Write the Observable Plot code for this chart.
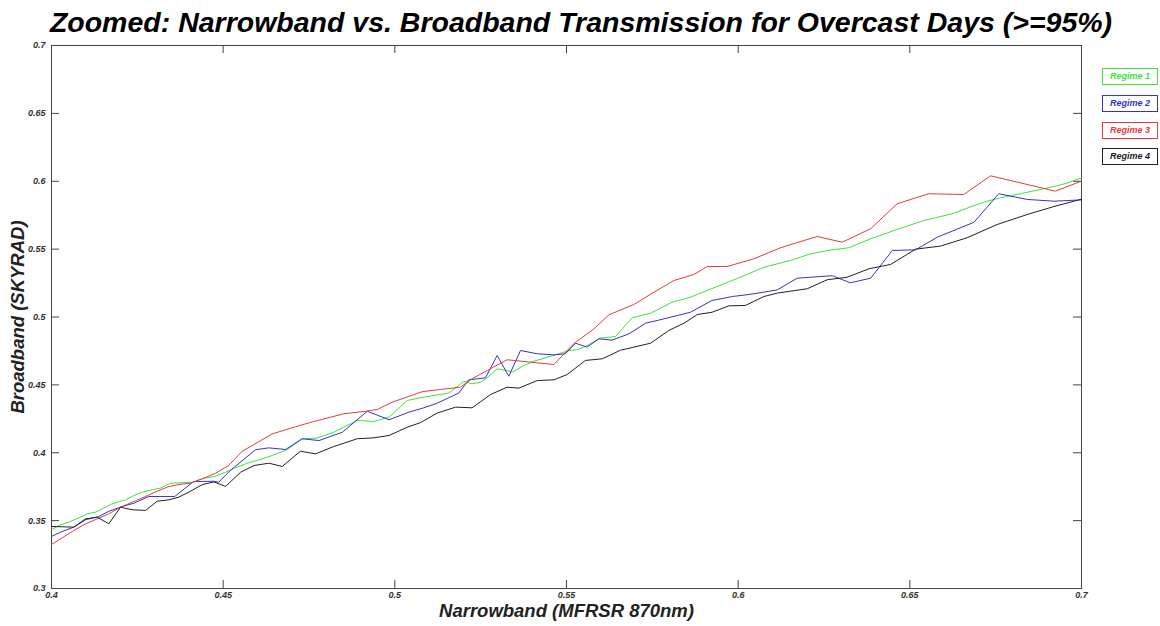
<!DOCTYPE html>
<html>
<head>
<meta charset="utf-8">
<script src="https://cdn.jsdelivr.net/npm/d3@7"></script>
<script src="https://cdn.jsdelivr.net/npm/@observablehq/plot@0.6"></script>
<style>
  html, body { margin: 0; padding: 0; background: #fff; }
  body { width: 1160px; height: 626px; position: relative; overflow: hidden; font-family: "Liberation Sans", Arial, sans-serif; }
  #title { height: 40px; line-height: 44px; text-align: center; font-size: 28.5px; font-weight: bold; font-style: italic; color: #000; padding-left: 2px; white-space: nowrap; }
  #chart svg text { font-family: "Liberation Sans", Arial, sans-serif; font-style: italic; font-weight: bold; }
  .leg { position: absolute; left: 1102px; width: 54px; height: 15px; border: 1px solid; background: #fff;
         font-size: 9px; font-weight: bold; font-style: italic; text-align: center; line-height: 15px; }
</style>
</head>
<body>
<div id="title">Zoomed: Narrowband vs. Broadband Transmission for Overcast Days (&gt;=95%)</div>
<div id="chart"></div>
<div id="legend"></div>
<script>
const seriesNames = ["Regime 1", "Regime 2", "Regime 3", "Regime 4"];
const seriesColors = ["#3fe03f", "#3434c4", "#e23c3c", "#222222"];
const xTicks = [0.4, 0.45, 0.5, 0.55, 0.6, 0.65, 0.7];
const yTicks = [0.3, 0.35, 0.4, 0.45, 0.5, 0.55, 0.6, 0.65, 0.7];
const xLabel = "Narrowband (MFRSR 870nm)";
const yLabel = "Broadband (SKYRAD)";

const regime1X = [0.4000,0.4021,0.4050,0.4080,0.4104,0.4128,0.4148,0.4172,0.4191,0.4216,0.4240,0.4264,0.4293,0.4317,0.4347,0.4381,0.4410,0.4439,0.4478,0.4507,0.4536,0.4570,0.4599,0.4643,0.4686,0.4730,0.4774,0.4822,0.4851,0.4890,0.4939,0.4983,0.5036,0.5075,0.5114,0.5157,0.5186,0.5201,0.5225,0.5250,0.5269,0.5298,0.5327,0.5342,0.5376,0.5405,0.5444,0.5478,0.5507,0.5531,0.5555,0.5599,0.5643,0.5691,0.5745,0.5808,0.5861,0.5929,0.6007,0.6075,0.6152,0.6211,0.6274,0.6322,0.6386,0.6463,0.6541,0.6623,0.6687,0.6725,0.6764,0.6822,0.6920,0.6958,0.7000];
const regime1Y = [0.3432,0.3464,0.3489,0.3521,0.3550,0.3562,0.3587,0.3619,0.3636,0.3653,0.3685,0.3710,0.3727,0.3739,0.3776,0.3779,0.3783,0.3808,0.3827,0.3857,0.3889,0.3923,0.3943,0.3980,0.4022,0.4103,0.4108,0.4151,0.4188,0.4238,0.4230,0.4262,0.4385,0.4405,0.4422,0.4439,0.4496,0.4527,0.4508,0.4520,0.4552,0.4618,0.4606,0.4594,0.4643,0.4674,0.4704,0.4729,0.4753,0.4758,0.4783,0.4845,0.4856,0.4994,0.5028,0.5109,0.5146,0.5215,0.5293,0.5367,0.5416,0.5466,0.5495,0.5510,0.5576,0.5645,0.5711,0.5760,0.5821,0.5853,0.5878,0.5908,0.5961,0.5986,0.6025];

const regime2X = [0.4000,0.4026,0.4065,0.4099,0.4138,0.4167,0.4206,0.4240,0.4283,0.4359,0.4414,0.4473,0.4487,0.4521,0.4594,0.4633,0.4682,0.4730,0.4779,0.4847,0.4920,0.4983,0.5041,0.5084,0.5123,0.5186,0.5215,0.5264,0.5298,0.5332,0.5366,0.5415,0.5463,0.5497,0.5526,0.5560,0.5594,0.5633,0.5682,0.5730,0.5764,0.5823,0.5861,0.5924,0.5983,0.6026,0.6075,0.6114,0.6172,0.6211,0.6274,0.6327,0.6386,0.6449,0.6517,0.6580,0.6687,0.6759,0.6842,0.6920,0.7000];
const regime2Y = [0.3383,0.3415,0.3452,0.3506,0.3530,0.3569,0.3604,0.3628,0.3678,0.3678,0.3788,0.3790,0.3783,0.3870,0.4022,0.4036,0.4024,0.4103,0.4090,0.4151,0.4306,0.4243,0.4299,0.4331,0.4365,0.4439,0.4537,0.4552,0.4716,0.4564,0.4753,0.4729,0.4721,0.4729,0.4807,0.4778,0.4839,0.4830,0.4876,0.4954,0.4974,0.5011,0.5035,0.5122,0.5151,0.5164,0.5183,0.5200,0.5286,0.5293,0.5304,0.5252,0.5286,0.5490,0.5495,0.5588,0.5698,0.5908,0.5866,0.5853,0.5863];

const regime3X = [0.4000,0.4065,0.4099,0.4133,0.4167,0.4201,0.4235,0.4274,0.4308,0.4342,0.4371,0.4405,0.4439,0.4478,0.4516,0.4555,0.4643,0.4706,0.4764,0.4851,0.4910,0.4949,0.4992,0.5080,0.5133,0.5191,0.5225,0.5269,0.5327,0.5463,0.5521,0.5580,0.5623,0.5696,0.5755,0.5813,0.5871,0.5910,0.5968,0.6046,0.6123,0.6230,0.6303,0.6386,0.6463,0.6555,0.6657,0.6735,0.6924,0.7000];
const regime3Y = [0.3324,0.3427,0.3476,0.3513,0.3550,0.3599,0.3636,0.3678,0.3717,0.3751,0.3766,0.3776,0.3808,0.3849,0.3906,0.4010,0.4139,0.4188,0.4230,0.4287,0.4304,0.4319,0.4372,0.4450,0.4466,0.4483,0.4545,0.4606,0.4685,0.4650,0.4803,0.4913,0.5015,0.5092,0.5183,0.5269,0.5313,0.5372,0.5372,0.5429,0.5510,0.5593,0.5551,0.5650,0.5834,0.5908,0.5902,0.6040,0.5927,0.6001];

const regime4X = [0.4000,0.4065,0.4099,0.4133,0.4167,0.4201,0.4235,0.4274,0.4308,0.4342,0.4371,0.4405,0.4439,0.4473,0.4507,0.4551,0.4590,0.4633,0.4672,0.4725,0.4769,0.4822,0.4861,0.4890,0.4939,0.4983,0.5036,0.5075,0.5123,0.5177,0.5225,0.5279,0.5327,0.5361,0.5415,0.5463,0.5502,0.5555,0.5604,0.5657,0.5696,0.5745,0.5798,0.5842,0.5881,0.5924,0.5973,0.6021,0.6075,0.6114,0.6152,0.6201,0.6259,0.6317,0.6381,0.6444,0.6517,0.6589,0.6667,0.6754,0.6842,0.6920,0.7000];
const regime4Y = [0.3457,0.3452,0.3513,0.3525,0.3477,0.3599,0.3580,0.3575,0.3643,0.3653,0.3673,0.3717,0.3765,0.3785,0.3752,0.3857,0.3906,0.3923,0.3899,0.4011,0.3992,0.4046,0.4078,0.4103,0.4110,0.4127,0.4188,0.4222,0.4292,0.4336,0.4331,0.4429,0.4483,0.4476,0.4532,0.4537,0.4576,0.4680,0.4692,0.4755,0.4778,0.4807,0.4901,0.4954,0.5018,0.5035,0.5082,0.5085,0.5151,0.5176,0.5190,0.5208,0.5274,0.5293,0.5355,0.5387,0.5500,0.5522,0.5584,0.5681,0.5755,0.5814,0.5868];

const seriesX = [regime1X, regime2X, regime3X, regime4X];
const seriesY = [regime1Y, regime2Y, regime3Y, regime4Y];
const rows = [];
seriesNames.forEach((name, i) => {
  seriesX[i].forEach((xv, j) => rows.push({regime: name, x: xv, y: seriesY[i][j]}));
});

const W = 1160, H = 586, mT = 5, mB = 38, mL = 51, mR = 79;
const innerW = W - mL - mR, innerH = H - mT - mB, tick = 8;
const axisColor = "#444";

const chart = Plot.plot({
  width: W, height: H,
  marginTop: mT, marginBottom: mB, marginLeft: mL, marginRight: mR,
  x: {domain: [0.4, 0.7]},
  y: {domain: [0.3, 0.7]},
  color: {domain: seriesNames, range: seriesColors},
  style: {fontSize: "9px", color: "#333", background: "#fff"},
  marks: [
    Plot.frame({stroke: axisColor, strokeWidth: 1}),
    Plot.tickX(xTicks, {x: d => d, insetTop: innerH - tick, stroke: axisColor}),
    Plot.tickX(xTicks, {x: d => d, insetBottom: innerH - tick, stroke: axisColor}),
    Plot.tickY(yTicks, {y: d => d, insetRight: innerW - tick, stroke: axisColor}),
    Plot.tickY(yTicks, {y: d => d, insetLeft: innerW - tick, stroke: axisColor}),
    Plot.axisX({ticks: xTicks, tickSize: 0, tickPadding: 3, tickFormat: d => String(d), label: null, fill: "#333"}),
    Plot.axisY({ticks: yTicks, tickSize: 0, tickPadding: 6, tickFormat: d => String(d), label: null, fill: "#333"}),
    Plot.line(rows, {x: "x", y: "y", z: "regime", stroke: "regime", strokeWidth: 1}),
    Plot.text([xLabel], {frameAnchor: "bottom", dy: 28, fontSize: 18.5, fill: "#222", fontWeight: "bold", fontStyle: "italic"}),
    Plot.text([yLabel], {frameAnchor: "left", dx: -33, rotate: -90, textAnchor: "middle", fontSize: 18.5, fill: "#222", fontWeight: "bold", fontStyle: "italic"})
  ]
});
document.getElementById("chart").appendChild(chart);

const legend = document.getElementById("legend");
const legendTops = [68, 95, 122, 148];
seriesNames.forEach((name, i) => {
  const d = document.createElement("div");
  d.className = "leg";
  d.style.top = legendTops[i] + "px";
  d.style.color = seriesColors[i];
  d.style.borderColor = seriesColors[i];
  d.textContent = name;
  legend.appendChild(d);
});
</script>
</body>
</html>
